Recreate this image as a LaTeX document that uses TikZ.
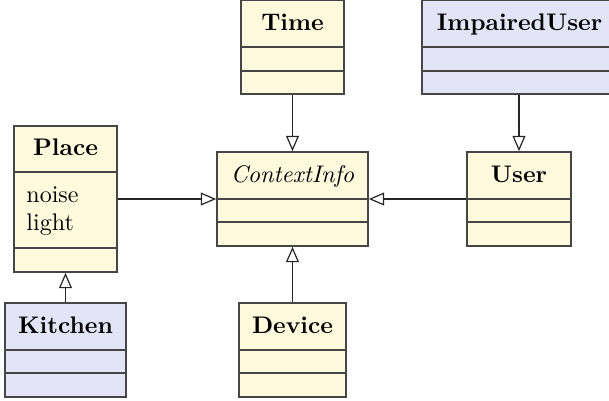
\documentclass[tikz,border=0pt]{standalone}
\usetikzlibrary{arrows.meta,fit}

\definecolor{classyellow}{RGB}{255,250,222}
\definecolor{classlilac}{RGB}{228,228,247}
\definecolor{frame}{RGB}{70,70,70}

\tikzset{
  classbox/.style={draw=frame, line width=0.7pt, inner sep=0pt},
  yellowclass/.style={classbox, fill=classyellow},
  lilacclass/.style={classbox, fill=classlilac},
  classname/.style={anchor=base, inner sep=0pt, font=\bfseries},
  attr/.style={anchor=base west, inner sep=0pt},
  divider/.style={draw=frame, line width=0.6pt},
  inherit/.style={draw=black!85, line width=0.5pt,
    -{Triangle[open, length=6.4pt, width=5.4pt]}},
}

\begin{document}
\begin{tikzpicture}[x=0.41667pt, y=-0.41667pt]
\useasboundingbox (0,0) rectangle (609,400);

% Time
\node[yellowclass, fit={(241,0.5) (344,94)}] (time) {};
\draw[divider] (241,47) -- (344,47) (241,71) -- (344,71);
\node[classname] (timename) at (292.5,30) {Time};

% ImpairedUser (runs past the right edge of the page)
\node[lilacclass, fit={(422,0.5) (617,94)}] (impaired) {};
\draw[divider] (422,47) -- (617,47) (422,71) -- (617,71);
\node[classname] (impairedname) at (519.5,30) {ImpairedUser};

% ContextInfo (abstract)
\node[yellowclass, fit={(217,152) (368,246)}] (context) {};
\draw[divider] (217,199) -- (368,199) (217,222) -- (368,222);
\node[classname, font=\itshape] (contextname) at (292.5,182) {ContextInfo};

% User
\node[yellowclass, fit={(467,152) (571,246)}] (user) {};
\draw[divider] (467,199) -- (571,199) (467,222) -- (571,222);
\node[classname] (username) at (519,182) {User};

% Place
\node[yellowclass, fit={(14,126) (117,272)}] (place) {};
\draw[divider] (14,172) -- (117,172) (14,248) -- (117,248);
\node[classname] (placename) at (65.5,155) {Place};
\node[attr] (noise) at (26,202) {noise};
\node[attr] (light) at (26,230) {light};

% Kitchen
\node[lilacclass, fit={(5,303) (126,397)}] (kitchen) {};
\draw[divider] (5,350) -- (126,350) (5,373) -- (126,373);
\node[classname] (kitchenname) at (65.5,333) {Kitchen};

% Device
\node[yellowclass, fit={(239,303) (346,397)}] (device) {};
\draw[divider] (239,350) -- (346,350) (239,373) -- (346,373);
\node[classname] (devicename) at (292.5,333) {Device};

% Generalisations
\draw[inherit] (time.south) -- (context.north);
\draw[inherit] (device.north) -- (context.south);
\draw[inherit] (place.east) -- (context.west);
\draw[inherit] (user.west) -- (context.east);
\draw[inherit] (user.north |- impaired.south) -- (user.north);
\draw[inherit] (kitchen.north) -- (place.south);
\end{tikzpicture}
\end{document}
